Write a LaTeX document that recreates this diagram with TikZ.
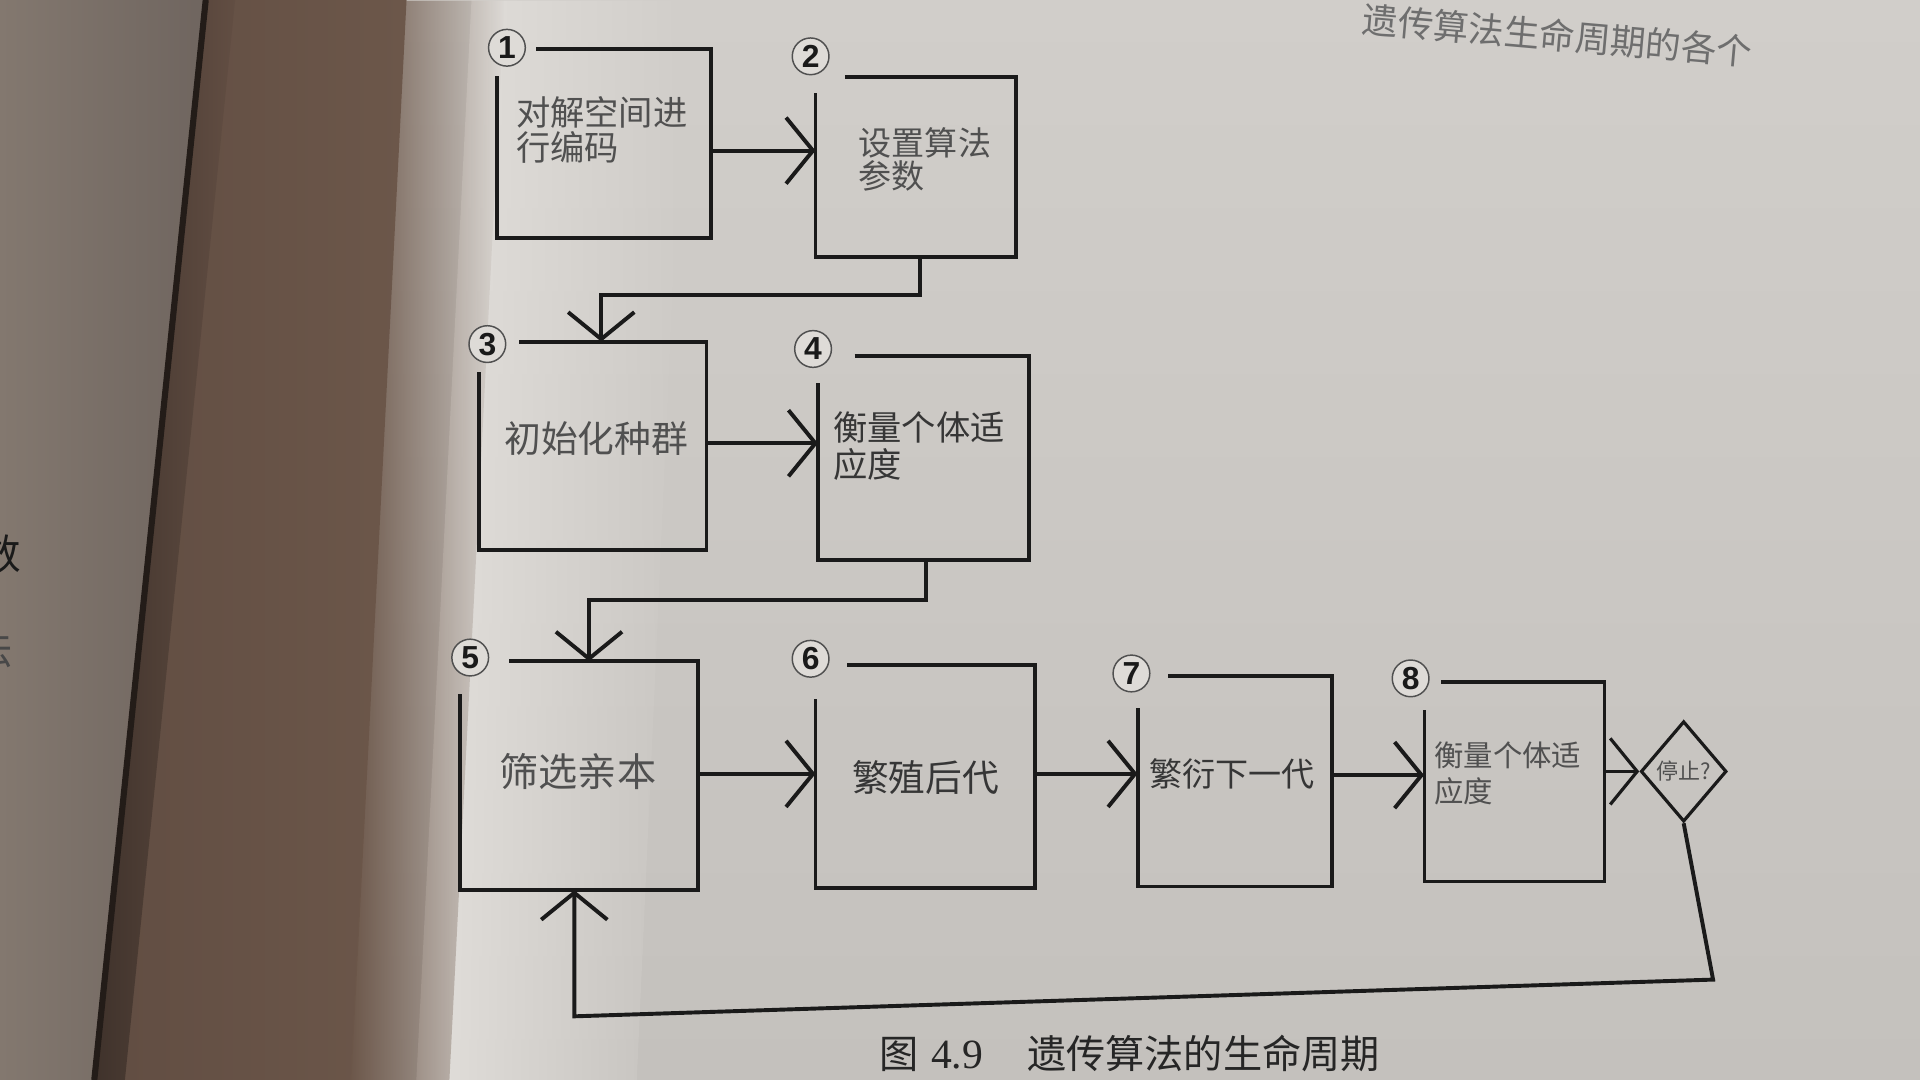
\documentclass[tikz,border=0pt]{standalone}
\usepackage{fontspec}
\setmainfont{Liberation Serif}
\newfontfamily\cjk{Noto Sans CJK SC}
\newfontfamily\numf{Liberation Sans}
\usetikzlibrary{arrows.meta,shapes.geometric,calc,fit,fadings}
\definecolor{ink}{HTML}{1A1A1A}
\definecolor{txt}{HTML}{363636}
\definecolor{txtl}{HTML}{505050}
\definecolor{circd}{HTML}{505050}
\definecolor{circfill}{HTML}{DEDBD7}
\definecolor{pagetop}{HTML}{D1CECA}
\definecolor{pagebot}{HTML}{C4C1BD}
\definecolor{pagebright}{HTML}{E3E0DC}
\definecolor{shadowd}{HTML}{3F322B}
\definecolor{shadowm}{HTML}{624E43}
\definecolor{shadowl}{HTML}{6C574A}
\definecolor{leftpa}{HTML}{83786F}
\definecolor{leftpb}{HTML}{6F655F}
\definecolor{edge}{HTML}{231C18}
\definecolor{faint}{HTML}{6E6E6E}
\definecolor{captxt}{HTML}{262626}
\tikzfading[name=fadeR, left color=transparent!0, right color=transparent!100]
\newcommand\mybox[7]{%
  \node[area, fit={(#2,#3)(#4,#5)}] (#1) {};
  \draw[boxline] (#6,#3) -- (#1.north east) -- (#1.south east) -- (#1.south west) -- (#2,#7);
}
\begin{document}
\begin{tikzpicture}[x=0.5pt,y=-0.5pt,
  boxline/.style={line width=1.6pt, draw=ink, line join=miter},
  arr/.style={line width=1.6pt, draw=ink, line join=miter, -{Straight Barb[length=11pt,width=27pt]}},
  numc/.style={circle, draw=circd, line width=0.6pt, fill=circfill, minimum size=15pt, inner sep=0pt, font=\numf\bfseries\fontsize{13}{13}\selectfont, text=ink},
  area/.style={inner sep=0pt, outer sep=0pt},
  lbl/.style={inner sep=0pt, align=left, text=txt}
]
% background
\useasboundingbox (0,0) rectangle (1568,882);
\shade[top color=pagetop, bottom color=pagebot] (0,0) rectangle (1568,882);
\fill[pagebright, path fading=fadeR] (385,0) -- (560,0) -- (520,882) -- (340,882) -- cycle;
\shade[left color=shadowm, right color=shadowl] (190,0) -- (332,0) -- (287,882) -- (100,882) -- cycle;
\shade[left color=shadowd, right color=shadowm] (166,0) -- (192,0) -- (102,882) -- (76,882) -- cycle;
\fill[shadowl, path fading=fadeR] (331,0) -- (412,0) -- (367,882) -- (286,882) -- cycle;
\shade[left color=leftpa, right color=leftpb] (0,0) -- (168,0) -- (77,882) -- (0,882) -- cycle;
\draw[line width=2.5pt, edge] (168,0) -- (77,882);
\node[inner sep=0pt, text=ink, font=\cjk\fontsize{17}{17}\selectfont] (lp1) at (0,452) {数};
\node[inner sep=0pt, text=ink!80, font=\cjk\fontsize{17}{17}\selectfont] (lp2) at (-6,530) {法};
\node[rotate=-5, inner sep=0pt, text=faint, font=\cjk\fontsize{14.5}{14.5}\selectfont] (tt) at (1272,29) {遗传算法生命周期的各个};

% boxes
\mybox{b1}{406}{40}{581}{194}{438}{62}
\mybox{b2}{666}{63}{830}{210}{690}{76}
\mybox{b3}{391}{279}{577}{449}{424}{304}
\mybox{b4}{668}{291}{840}{457}{698}{313}
\mybox{b5}{376}{540}{570}{727}{416}{567}
\mybox{b6}{666}{543}{845}{725}{692}{571}
\mybox{b7}{929}{552}{1088}{724}{954}{578}
\begin{scope}[boxline/.append style={line width=1.3pt}]
\mybox{b8}{1163}{557}{1310}{720}{1177}{580}
\end{scope}

% number circles
\node[numc] (c1) at (414,39) {1};
\node[numc] (c2) at (662,46) {2};
\node[numc] (c3) at (398,281) {3};
\node[numc] (c4) at (664,285) {4};
\node[numc] (c5) at (384,537) {5};
\node[numc] (c6) at (662,538) {6};
\node[numc] (c7) at (924,550) {7};
\node[numc] (c8) at (1152,554) {8};

% labels
\node[lbl, anchor=north west, text=txtl, font=\cjk\fontsize{14}{14.5}\selectfont] (t1) at (421,78) {对解空间进\\行编码};
\node[lbl, anchor=north west, text=txtl, font=\cjk\fontsize{13.5}{13.5}\selectfont] (t2) at (701,104) {设置算法\\参数};
\node[lbl, text=txtl, font=\cjk\fontsize{15}{15}\selectfont] (t3) at (487,358) {初始化种群};
\node[lbl, anchor=north west, font=\cjk\fontsize{14}{15}\selectfont] (t4) at (680,336) {衡量个体适\\应度};
\node[lbl, text=txtl, font=\cjk\fontsize{16}{16}\selectfont] (t5) at (472,630) {筛选亲本};
\node[lbl, font=\cjk\fontsize{15}{15}\selectfont] (t6) at (756,635) {繁殖后代};
\node[lbl, font=\cjk\fontsize{13.5}{13.5}\selectfont] (t7) at (1006,632) {繁衍下一代};
\node[lbl, anchor=north west, text=txtl, font=\cjk\fontsize{12}{15}\selectfont] (t8) at (1171,605) {衡量个体适\\应度};

% decision
\node[diamond, draw=ink, line width=1.3pt, minimum width=35pt, minimum height=41pt, inner sep=0pt, text=txtl, font=\cjk\fontsize{9}{9}\selectfont] (dia) at (1375,630) {停止?};

% connectors
\coordinate (y12) at (0,123);
\coordinate (y34) at (0,362);
\coordinate (y56) at (0,632);
\coordinate (y67) at (0,632);
\coordinate (y78) at (0,633);
\draw[arr] (b1.east |- y12) -- (b2.west |- y12);
\draw[arr] (b3.east |- y34) -- (b4.west |- y34);
\draw[arr] (b5.east |- y56) -- (b6.west |- y56);
\draw[arr] (b6.east |- y67) -- (b7.west |- y67);
\draw[arr] (b7.east |- y78) -- (b8.west |- y78);
\draw[arr, line width=1.3pt] (b8.east |- dia.west) -- (dia.west);

\coordinate (k2a) at (751,241);
\coordinate (k2b) at (491,241);
\draw[arr] (k2a |- b2.south) -- (k2a) -- (k2b) -- (k2b |- b3.north);

\coordinate (k4a) at (756,490);
\coordinate (k4b) at (481,490);
\draw[arr] (k4a |- b4.south) -- (k4a) -- (k4b) -- (k4b |- b5.north);

\coordinate (l1) at (1399,800);
\coordinate (l2) at (469,830);
\draw[arr] (dia.south) -- (l1) -- (l2) -- (l2 |- b5.south);

% caption
\node[anchor=west, inner sep=0pt, text=captxt] (cap) at (718,860) {{\cjk\fontsize{16}{16}\selectfont 图}\hspace{5pt}{\fontsize{17}{17}\selectfont 4.9}\hspace{18pt}{\cjk\fontsize{16}{16}\selectfont 遗传算法的生命周期}};
\end{tikzpicture}
\end{document}
